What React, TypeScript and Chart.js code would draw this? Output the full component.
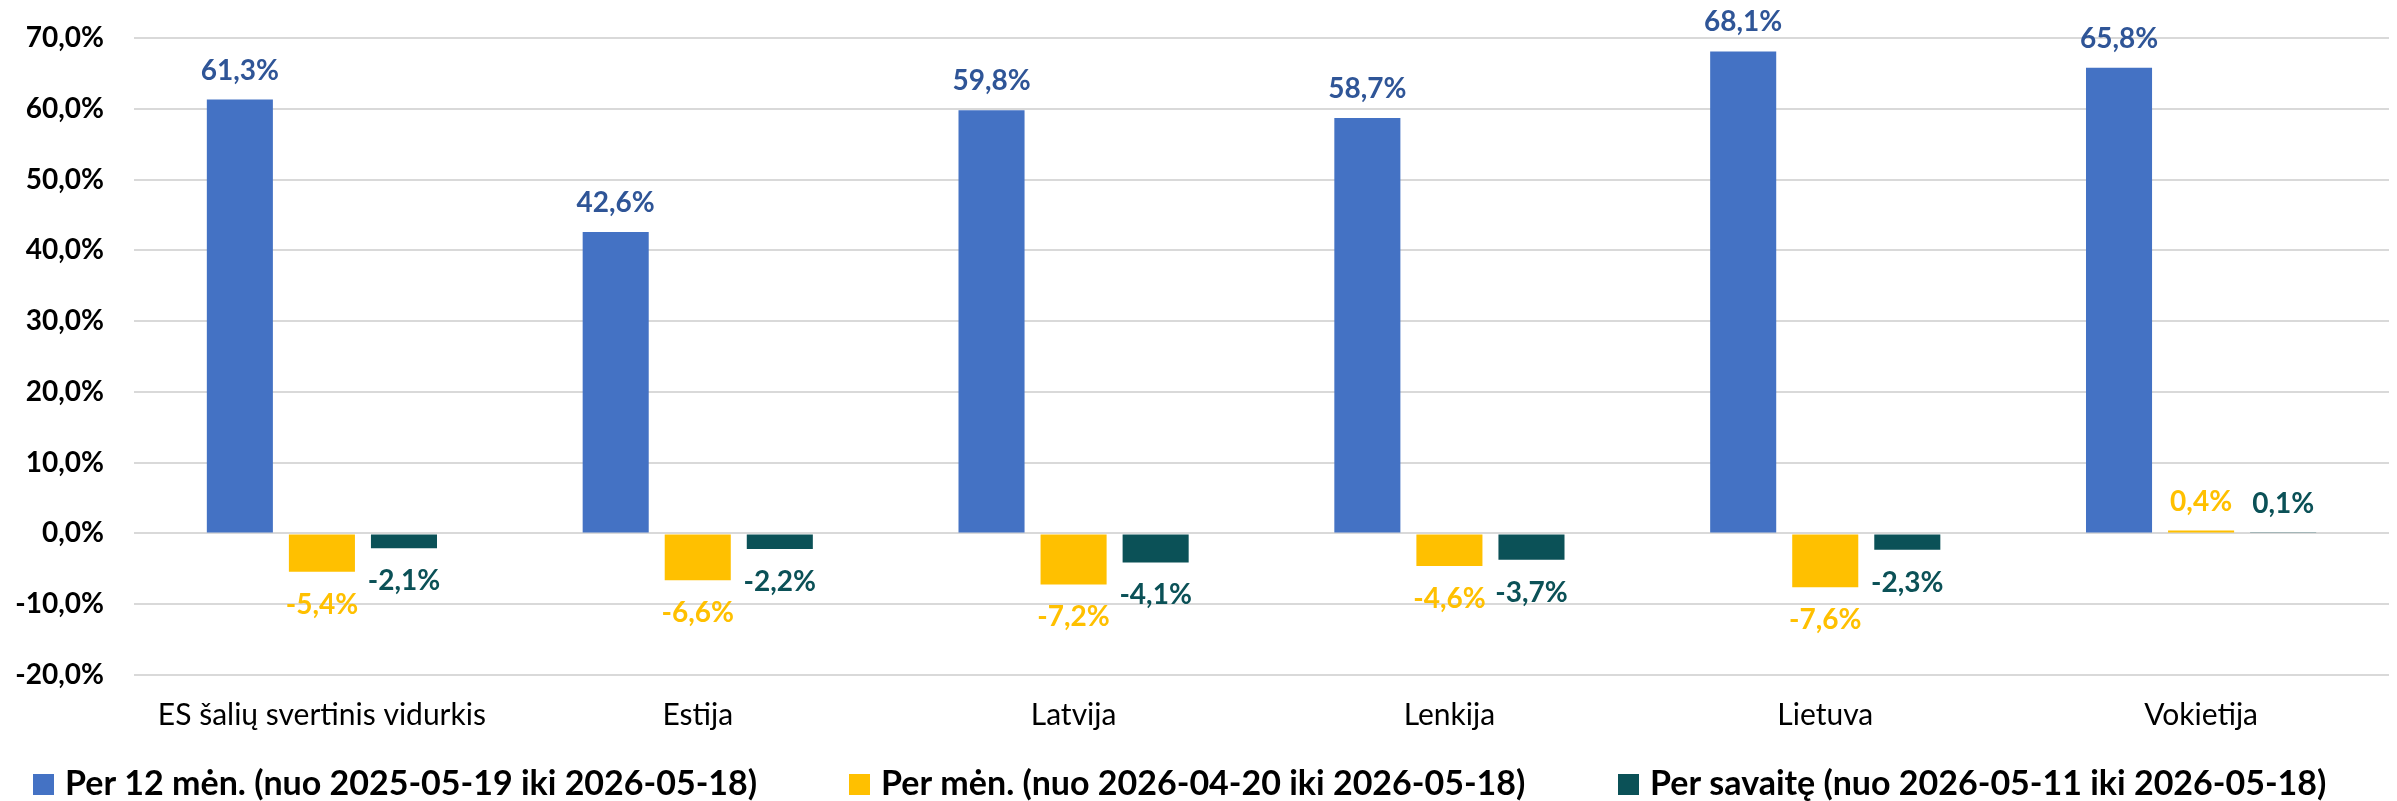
import React, { useEffect, useRef } from 'react';
import { Chart, registerables } from 'chart.js';

Chart.register(...registerables);

const categories = [
  'ES šalių svertinis vidurkis',
  'Estija',
  'Latvija',
  'Lenkija',
  'Lietuva',
  'Vokietija',
];

const series12m = [61.3, 42.6, 59.8, 58.7, 68.1, 65.8];
const seriesMonth = [-5.4, -6.6, -7.2, -4.6, -7.6, 0.4];
const seriesWeek = [-2.1, -2.2, -4.1, -3.7, -2.3, 0.1];

const seriesLabels = [
  'Per 12 mėn. (nuo 2025-05-19 iki 2026-05-18)',
  'Per mėn. (nuo 2026-04-20 iki 2026-05-18)',
  'Per savaitę (nuo 2026-05-11 iki 2026-05-18)',
];

const seriesColors = ['#4472C4', '#FFC000', '#0B5157'];
const labelColors = ['#2F5597', '#FFC000', '#0B5157'];

const yMin = -20;
const yMax = 70;
const yStep = 10;

const FONT = 'Lato';

// legend item left edges (layout only)
const legendStarts = [33, 849, 1618];

const fmt = (v: number) => v.toFixed(1).replace('.', ',') + '%';

const dataLabelPlugin = {
  id: 'dataLabels',
  afterDatasetsDraw(chart: any) {
    const ctx = chart.ctx;
    chart.data.datasets.forEach((ds: any, i: number) => {
      const meta = chart.getDatasetMeta(i);
      meta.data.forEach((bar: any, j: number) => {
        const v = ds.data[j] as number;
        const { x, y } = bar.getProps(['x', 'y'], true);
        ctx.save();
        ctx.font = `bold 28px ${FONT}`;
        ctx.fillStyle = labelColors[i];
        ctx.textAlign = 'center';
        ctx.textBaseline = 'alphabetic';
        const ty = v >= 0 ? y - 20 : y + 42;
        ctx.fillText(fmt(v), x, ty);
        ctx.restore();
      });
    });
  },
};

const legendPlugin = {
  id: 'customLegend',
  afterDraw(chart: any) {
    const ctx = chart.ctx;
    const box = 21;
    const textGap = 11;
    const baseline = chart.height - 6;
    ctx.save();
    ctx.font = `bold 34px ${FONT}`;
    ctx.textAlign = 'left';
    ctx.textBaseline = 'alphabetic';
    chart.data.datasets.forEach((ds: any, i: number) => {
      const x = legendStarts[i];
      ctx.fillStyle = ds.backgroundColor;
      ctx.fillRect(x, baseline - box, box, box);
      ctx.fillStyle = '#000000';
      ctx.fillText(ds.label, x + box + textGap, baseline);
    });
    ctx.restore();
  },
};

export default function App() {
  const canvasRef = useRef<HTMLCanvasElement | null>(null);

  useEffect(() => {
    document.body.style.margin = '0';
    const canvas = canvasRef.current;
    if (!canvas) return;
    const seriesData = [series12m, seriesMonth, seriesWeek];
    const chart = new Chart(canvas, {
      type: 'bar',
      data: {
        labels: categories,
        datasets: seriesData.map((d, i) => ({
          label: seriesLabels[i],
          data: d,
          backgroundColor: seriesColors[i],
          borderWidth: 0,
          categoryPercentage: 0.655,
          barPercentage: 0.805,
        })),
      },
      options: {
        responsive: false,
        animation: false,
        devicePixelRatio: 1,
        layout: { padding: { top: 38, right: 8, left: 0, bottom: 0 } },
        plugins: {
          legend: { display: false },
          tooltip: { enabled: false },
        },
        scales: {
          x: {
            grid: { display: false, drawTicks: false },
            border: { display: false },
            ticks: {
              padding: 22,
              color: '#000000',
              font: { family: FONT, size: 30 },
              maxRotation: 0,
              autoSkip: false,
            },
            afterFit(scale: any) {
              scale.height = 126;
            },
          },
          y: {
            min: yMin,
            max: yMax,
            ticks: {
              stepSize: yStep,
              padding: 30,
              color: '#000000',
              font: { family: FONT, size: 28, weight: 'bold' },
              callback: (v: any) => fmt(Number(v)),
            },
            grid: { color: '#D9D9D9', lineWidth: 2, drawTicks: false },
            border: { display: false },
            afterFit(scale: any) {
              scale.width = 134;
              scale.paddingTop = 0;
              scale.paddingBottom = 0;
            },
          },
        },
      },
      plugins: [dataLabelPlugin, legendPlugin],
    });
    return () => chart.destroy();
  }, []);

  return (
    <div>
      <canvas ref={canvasRef} width={2397} height={801} style={{ display: 'block' }} />
    </div>
  );
}
